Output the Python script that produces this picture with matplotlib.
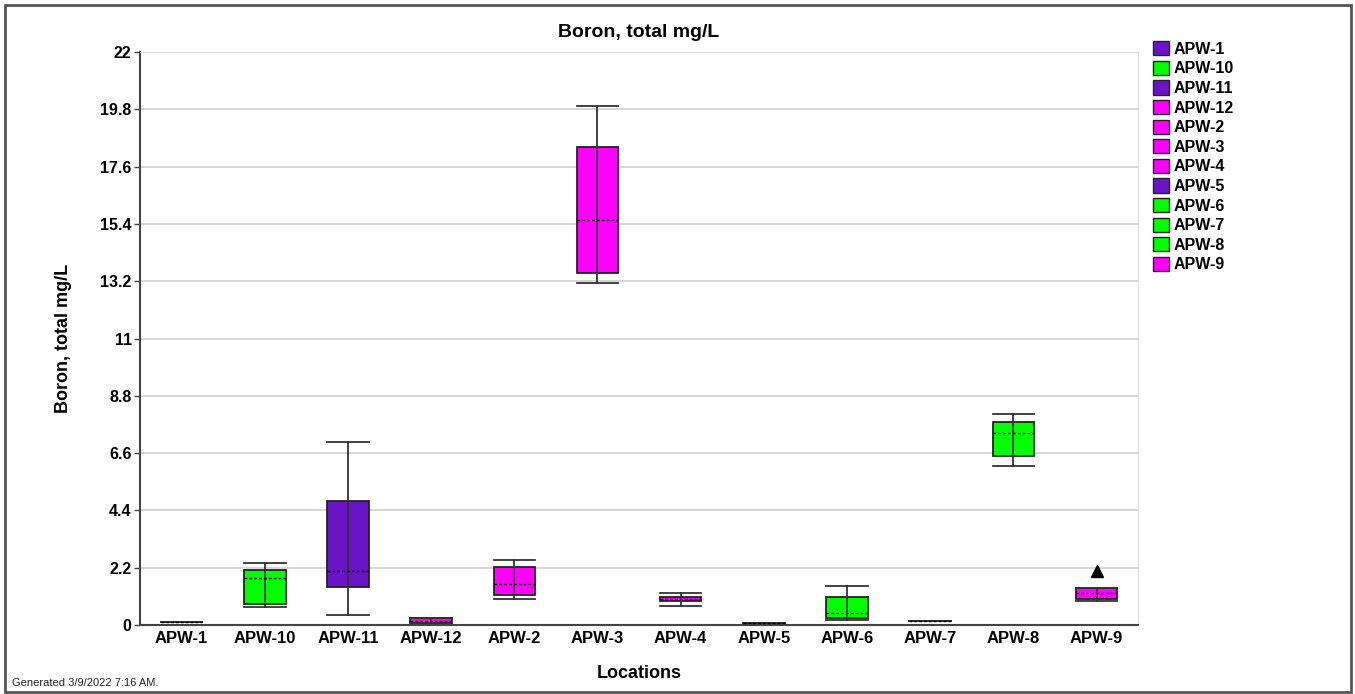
import matplotlib.pyplot as plt
import matplotlib.patches as mpatches
import numpy as np

plt.rcParams['font.family'] = ['Liberation Sans', 'DejaVu Sans']

# Data
locations = ['APW-1', 'APW-10', 'APW-11', 'APW-12', 'APW-2', 'APW-3',
             'APW-4', 'APW-5', 'APW-6', 'APW-7', 'APW-8', 'APW-9']
whis_lo = [0.10, 0.69, 0.37, 0.08, 1.00, 13.13, 0.74, 0.09, 0.19, 0.15, 6.09, 0.92]
q1 = [0.10, 0.81, 1.47, 0.08, 1.15, 13.51, 0.93, 0.09, 0.26, 0.15, 6.50, 1.00]
median = [0.10, 1.80, 2.07, 0.15, 1.57, 15.55, 1.00, 0.09, 0.46, 0.15, 7.36, 1.23]
q3 = [0.10, 2.11, 4.76, 0.27, 2.23, 18.35, 1.07, 0.09, 1.09, 0.15, 7.79, 1.42]
whis_hi = [0.10, 2.38, 7.03, 0.27, 2.50, 19.92, 1.22, 0.09, 1.51, 0.15, 8.10, 1.42]
outliers = [[], [], [], [], [], [], [], [], [], [], [], [2.08]]

purple = '#6A14C8'
green = '#00FF00'
magenta = '#FF00FF'
box_colors = [purple, green, purple, magenta, magenta, magenta,
              magenta, purple, green, green, green, magenta]

stats = []
for i, name in enumerate(locations):
    stats.append(dict(label=name, whislo=whis_lo[i], q1=q1[i], med=median[i],
                      q3=q3[i], whishi=whis_hi[i], fliers=outliers[i]))

fig = plt.figure(figsize=(13.55, 6.94), dpi=100)
ax = fig.add_axes([0.1033, 0.0994, 0.7367, 0.8256])

pos = np.arange(len(locations))
bp = ax.bxp(stats, positions=pos, widths=0.5, capwidths=0.5, patch_artist=True,
            boxprops=dict(edgecolor='#222222', linewidth=1.3),
            whiskerprops=dict(color='#333333', linewidth=1.3),
            capprops=dict(color='#333333', linewidth=1.3),
            medianprops=dict(color='black', linewidth=1.0, linestyle=(0, (2, 1.5))),
            flierprops=dict(marker='^', markerfacecolor='black', markeredgecolor='black',
                            markersize=9))
for patch, c in zip(bp['boxes'], box_colors):
    patch.set_facecolor(c)
    patch.set_zorder(2)
for el in bp['medians']:
    el.set_zorder(4)

# whisker line continues through the box
ax.vlines(pos, q1, q3, color='#333333', linewidth=1.3, zorder=3)

ax.set_xlim(-0.5, len(locations) - 0.5)
ax.set_ylim(0, 22)
ticks = [0, 2.2, 4.4, 6.6, 8.8, 11, 13.2, 15.4, 17.6, 19.8, 22]
ax.set_yticks(ticks)
ax.set_yticklabels(['0', '2.2', '4.4', '6.6', '8.8', '11', '13.2', '15.4',
                    '17.6', '19.8', '22'])
ax.yaxis.grid(True, color='#D0D0D0', linewidth=1.2, zorder=0)
ax.set_axisbelow(True)
ax.tick_params(axis='y', length=4, width=1, color='#444444', labelsize=11.5, pad=2)
ax.tick_params(axis='x', length=0, labelsize=12, pad=4)
for lab in ax.get_xticklabels() + ax.get_yticklabels():
    lab.set_fontweight('bold')

ax.spines['left'].set_color('#444444')
ax.spines['bottom'].set_color('#444444')
ax.spines['left'].set_linewidth(1.5)
ax.spines['bottom'].set_linewidth(1.5)
ax.spines['top'].set_color('#DDDDDD')
ax.spines['right'].set_color('#DDDDDD')

ax.set_title('Boron, total mg/L', fontsize=14, fontweight='bold', pad=11)
ax.set_ylabel('Boron, total mg/L', fontsize=13, fontweight='bold', labelpad=20)
ax.set_xlabel('Locations', fontsize=13, fontweight='bold', labelpad=14)

handles = [mpatches.Patch(facecolor=c, edgecolor='#222222', label=n)
           for n, c in zip(locations, box_colors)]
leg = fig.legend(handles=handles, loc='upper left', bbox_to_anchor=(0.846, 0.95),
                 frameon=False, prop=dict(weight='bold', size=11.5),
                 handlelength=1.0, handleheight=1.0, handletextpad=0.3,
                 labelspacing=0.25, borderaxespad=0)

fig.text(0.009, 0.012, 'Generated 3/9/2022 7:16 AM.', fontsize=8, color='#222222')

# outer frame
fig.patches.append(mpatches.Rectangle((0.004, 0.003), 0.993, 0.99, transform=fig.transFigure,
                                      fill=False, edgecolor='#555555', linewidth=2))

plt.savefig('out.png', dpi=100)
